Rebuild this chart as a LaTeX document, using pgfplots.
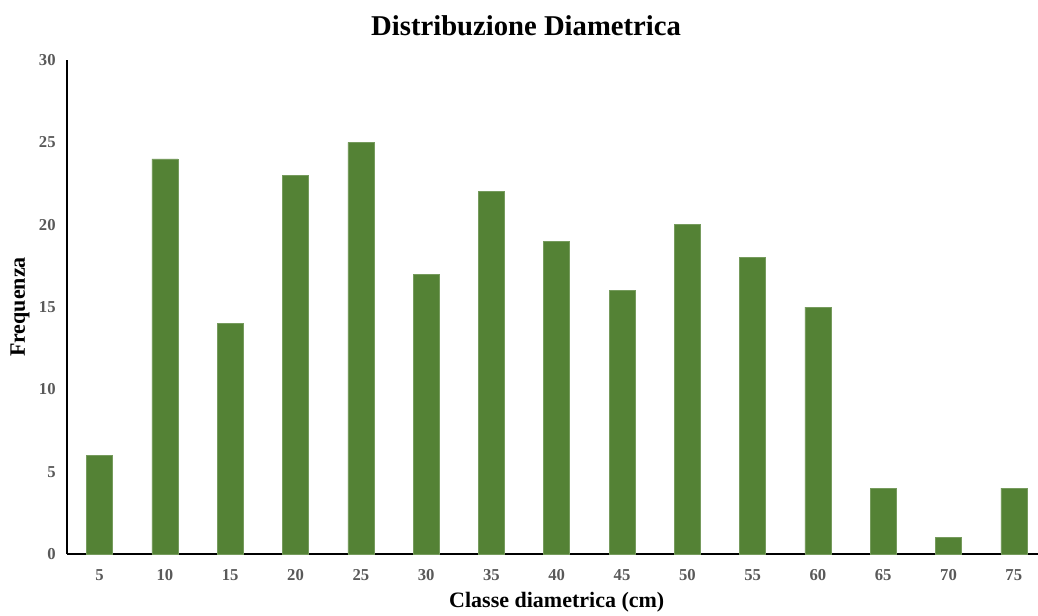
\documentclass[border=0pt]{standalone}
\usepackage{pgfplots}
\pgfplotsset{compat=1.18}
\usepackage{fontspec}
\setmainfont{Liberation Serif}
\definecolor{barfill}{HTML}{548235}
\definecolor{ticktext}{HTML}{595959}
\begin{document}
\begin{tikzpicture}[x=1pt,y=1pt]
\path[use as bounding box] (-50.25,-45.75) rectangle (728.25,415.5);
\begin{axis}[
  at={(0,0)}, anchor=south west,
  scale only axis,
  width=734.6pt, height=370.5pt,
  xmin=-0.5, xmax=14.5,
  ymin=0, ymax=30,
  ytick={0,5,...,30},
  xtick=data,
  xticklabels={5,10,15,20,25,30,35,40,45,50,55,60,65,70,75},
  axis x line*=bottom, axis y line*=left,
  axis line style={line width=1.6pt, -},
  major tick length=0pt,
  tick label style={font=\fontsize{12.5}{14}\selectfont\bfseries, text=ticktext},
  /pgf/number format/assume math mode=true,
  yticklabel style={xshift=-5pt},
  xticklabel style={yshift=-8pt},
  xlabel={Classe diametrica (cm)},
  ylabel={Frequenza},
  label style={font=\fontsize{16.5}{18}\selectfont\bfseries},
  xlabel style={at={(axis description cs:0.5,0)}, anchor=center, yshift=-36.5pt},
  ylabel style={at={(axis description cs:-0.048,0.5)}, anchor=center},
  title={Distribuzione Diametrica},
  title style={font=\fontsize{21.5}{24}\selectfont\bfseries, anchor=center, at={(axis description cs:0.5,1)}, yshift=19.5pt, xshift=-23pt},
  ybar, bar width=19.5pt,
  clip=false,
]
\addplot[fill=barfill, draw=barfill!80!white, line width=0.4pt] coordinates {
  (0,6) (1,24) (2,14) (3,23) (4,25) (5,17) (6,22) (7,19)
  (8,16) (9,20) (10,18) (11,15) (12,4) (13,1) (14,4)
};
\end{axis}
\end{tikzpicture}
\end{document}
